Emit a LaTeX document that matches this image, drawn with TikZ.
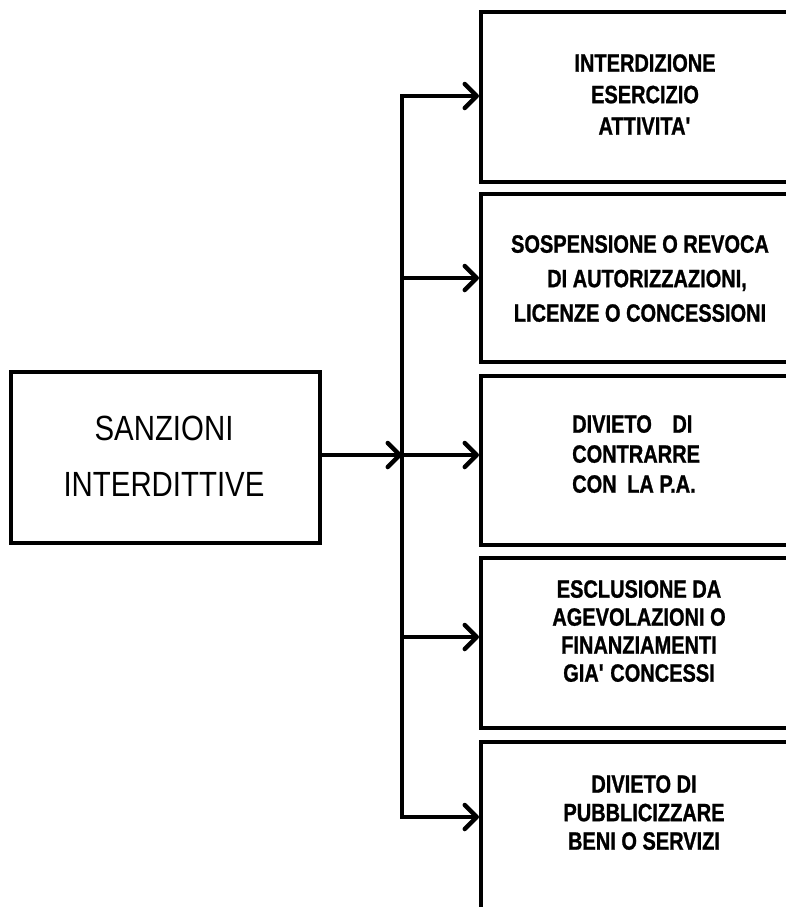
\documentclass[tikz,border=0pt]{standalone}
\usepackage{fontspec}
\newfontfamily\boxfont{Liberation Sans}[FakeStretch=0.8,FakeBold=1]
\newfontfamily\leftfont{Liberation Sans}[FakeStretch=0.84]
\usetikzlibrary{arrows.meta}
\begin{document}
\begin{tikzpicture}[x=1pt,y=-1pt,
  box/.style={draw, line width=4pt, minimum width=322pt, inner sep=0pt},
  conn/.style={line width=4.5pt, line join=miter},
  tip/.tip={Straight Barb[length=12pt,width=24pt,line cap=round,line join=round]},
  rtext/.style={inner sep=0pt, align=center, anchor=north},
]
\useasboundingbox (0,0) rectangle (786,907);
\fill[white] (0,0) rectangle (786,907);
\clip (0,0) rectangle (786,907);

% left box
\node[draw, line width=3.5pt, minimum width=309pt, minimum height=171pt, inner sep=0pt] (src) at (165.5,457.5) {};
\node[inner sep=0pt, align=center, anchor=north,
      font={\leftfont\fontsize{35pt}{56pt}\selectfont}] (srct) at (164,416) {SANZIONI\\INTERDITTIVE};

% right boxes
\node[box, minimum height=170pt] (b1) at (642,97) {};
\node[box, minimum height=168pt] (b2) at (642,278) {};
\node[box, minimum height=169pt] (b3) at (642,460.5) {};
\node[box, minimum height=170pt] (b4) at (642,643) {};
\node[box, minimum height=170pt] (b5) at (642,827) {};

\node[rtext, font={\boxfont\bfseries\fontsize{25pt}{31.5pt}\selectfont}] (t1) at (645,54)
  {INTERDIZIONE\\ESERCIZIO\\ATTIVITA\textquotesingle};
\node[rtext, font={\boxfont\bfseries\fontsize{25pt}{34.5pt}\selectfont}] (t2) at (640,235)
  {SOSPENSIONE O REVOCA\\\hspace*{14pt}DI AUTORIZZAZIONI,\\LICENZE O CONCESSIONI};
\node[inner sep=0pt, align=left, anchor=north west,
      font={\boxfont\bfseries\fontsize{25pt}{30pt}\selectfont}] (t3) at (572,415)
  {DIVIETO\hspace{15pt} DI\\CONTRARRE\\CON\hspace{5pt} LA P.A.};
\node[rtext, font={\boxfont\bfseries\fontsize{25pt}{28pt}\selectfont}] (t4) at (639,580)
  {ESCLUSIONE DA\\AGEVOLAZIONI O\\FINANZIAMENTI\\GIA\textquotesingle{} CONCESSI};
\node[rtext, font={\boxfont\bfseries\fontsize{25pt}{28.5pt}\selectfont}] (t5) at (644,775)
  {DIVIETO DI\\PUBBLICIZZARE\\BENI O SERVIZI};

% junctions on the spine
\coordinate (j1) at (402,96);
\coordinate (j2) at (402,278);
\coordinate (j3) at (402,455);
\coordinate (j4) at (402,637);
\coordinate (j5) at (402,817);

\draw[conn, {tip}-{tip}] (j1 -| b1.west) -- (j1) -- (j5) -- (j5 -| b5.west);
\draw[conn, -{tip}] (j2) -- (j2 -| b2.west);
\draw[conn, -{tip}] (j3) -- (j3 -| b3.west);
\draw[conn, -{tip}] (j4) -- (j4 -| b4.west);
\draw[conn, -{tip}] (src.east |- j3) -- (j3);
\end{tikzpicture}
\end{document}
